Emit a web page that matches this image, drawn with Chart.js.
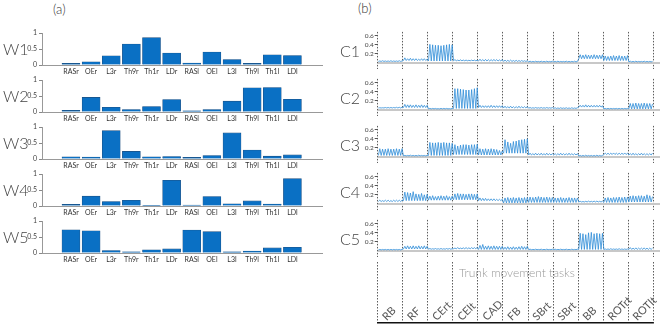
<!DOCTYPE html>
<html>
<head>
<meta charset="utf-8">
<script src="https://cdn.jsdelivr.net/npm/chart.js@4"></script>
<style>
  body { margin: 0; background: #fff; }
  #fig { position: relative; width: 669px; height: 325px; background: #fff; overflow: hidden; font-family: Lato, "Noto Sans", sans-serif; }
  #fig canvas { position: absolute; }
  .lbl { position: absolute; color: #444; font-weight: 300; line-height: 1; white-space: nowrap; }
  .big { font-size: 16px; }
</style>
</head>
<body>
<div id="fig">
  <div class="lbl" style="left:53px;top:3px;font-size:13px;color:#333">(a)</div>
  <div class="lbl" style="left:358px;top:2px;font-size:13px;color:#333">(b)</div>

  <canvas id="w1" width="330" height="52" style="left:0;top:27px"></canvas>
  <canvas id="w2" width="330" height="52" style="left:0;top:74px"></canvas>
  <canvas id="w3" width="330" height="52" style="left:0;top:121px"></canvas>
  <canvas id="w4" width="330" height="52" style="left:0;top:168px"></canvas>
  <canvas id="w5" width="330" height="52" style="left:0;top:215px"></canvas>

  <canvas id="c1" width="325" height="47" style="left:340px;top:27px"></canvas>
  <canvas id="c2" width="325" height="47" style="left:340px;top:74px"></canvas>
  <canvas id="c3" width="325" height="47" style="left:340px;top:121px"></canvas>
  <canvas id="c4" width="325" height="47" style="left:340px;top:168px"></canvas>
  <canvas id="c5" width="325" height="47" style="left:340px;top:215px"></canvas>
  <canvas id="tasksAxis" width="325" height="63" style="left:340px;top:262px"></canvas>

  <div class="lbl big" style="left:3px;top:41px">W1</div>
  <div class="lbl big" style="left:3px;top:88px">W2</div>
  <div class="lbl big" style="left:3px;top:135px">W3</div>
  <div class="lbl big" style="left:3px;top:182px">W4</div>
  <div class="lbl big" style="left:3px;top:229px">W5</div>

  <div class="lbl big" style="left:340px;top:43px">C1</div>
  <div class="lbl big" style="left:340px;top:90px">C2</div>
  <div class="lbl big" style="left:340px;top:137px">C3</div>
  <div class="lbl big" style="left:340px;top:184px">C4</div>
  <div class="lbl big" style="left:340px;top:231px">C5</div>

  <div class="lbl" style="left:459px;top:267px;font-size:12px;color:#999">Trunk movement tasks</div>
</div>

<script>
// muscle weights (a)
const muscles = ['RASr', 'OEr', 'L3r', 'Th9r', 'Th1r', 'LDr', 'RASl', 'OEl', 'L3l', 'Th9l', 'Th1l', 'LDl'];
const w1 = [0.05, 0.10, 0.29, 0.66, 0.86, 0.375, 0.06, 0.41, 0.17, 0.05, 0.32, 0.30];
const w2 = [0.05, 0.46, 0.15, 0.08, 0.17, 0.39, 0.04, 0.08, 0.34, 0.76, 0.77, 0.40];
const w3 = [0.07, 0.06, 0.89, 0.24, 0.07, 0.08, 0.05, 0.11, 0.82, 0.28, 0.09, 0.13];
const w4 = [0.05, 0.31, 0.14, 0.18, 0.02, 0.81, 0.03, 0.30, 0.07, 0.16, 0.06, 0.86];
const w5 = [0.73, 0.70, 0.08, 0.04, 0.10, 0.13, 0.72, 0.67, 0.04, 0.06, 0.16, 0.18];
const wTicks = [0, 0.5, 1];

// activation coefficients (b): per task a trough level and the peak heights
const tasks = ['RB', 'RF', 'CErt', 'CElt', 'CAD', 'FB', 'SBrt', 'SBrt', 'BB', 'ROTrt', 'ROTlt'];
const cTicks = [0, 0.2, 0.4, 0.6];

const c1Troughs = [0.03, 0.05, 0.04, 0.045, 0.04, 0.03, 0.02, 0.02, 0.09, 0.05, 0.02];
const c1Peaks = [
  [0.04, 0.045, 0.04, 0.04, 0.045, 0.04, 0.04, 0.045, 0.04],
  [0.11, 0.09, 0.10, 0.09, 0.09, 0.08, 0.09, 0.09, 0.08],
  [0.41, 0.40, 0.39, 0.39, 0.38, 0.39, 0.40, 0.41, 0.40],
  [0.07, 0.06, 0.065, 0.06, 0.06, 0.055, 0.06, 0.06, 0.055],
  [0.08, 0.07, 0.075, 0.07, 0.07, 0.075, 0.07, 0.065, 0.07],
  [0.06, 0.055, 0.06, 0.05, 0.055, 0.05, 0.05, 0.045, 0.045],
  [0.035, 0.03, 0.035, 0.03, 0.035, 0.03, 0.035, 0.03, 0.035],
  [0.03, 0.035, 0.03, 0.03, 0.035, 0.03, 0.03, 0.035, 0.03],
  [0.18, 0.17, 0.18, 0.17, 0.17, 0.18, 0.17, 0.17, 0.18],
  [0.15, 0.14, 0.15, 0.16, 0.15, 0.16, 0.15, 0.15, 0.16],
  [0.035, 0.03, 0.035, 0.03, 0.03, 0.035, 0.03, 0.03, 0.03]
];

const c2Troughs = [0.04, 0.05, 0.02, 0.03, 0.05, 0.04, 0.035, 0.03, 0.06, 0.02, 0.02];
const c2Peaks = [
  [0.045, 0.045, 0.05, 0.05, 0.05, 0.05, 0.055, 0.055, 0.055],
  [0.12, 0.11, 0.11, 0.10, 0.11, 0.10, 0.11, 0.10, 0.10],
  [0.03, 0.03, 0.03, 0.025, 0.03, 0.03, 0.03, 0.025, 0.03],
  [0.47, 0.47, 0.46, 0.45, 0.44, 0.44, 0.45, 0.47, 0.49],
  [0.10, 0.09, 0.09, 0.09, 0.10, 0.09, 0.09, 0.09, 0.09],
  [0.08, 0.07, 0.08, 0.07, 0.07, 0.08, 0.07, 0.07, 0.07],
  [0.05, 0.045, 0.05, 0.045, 0.05, 0.045, 0.05, 0.045, 0.05],
  [0.045, 0.04, 0.045, 0.04, 0.045, 0.04, 0.045, 0.04, 0.045],
  [0.10, 0.10, 0.11, 0.10, 0.10, 0.10, 0.10, 0.10, 0.09],
  [0.03, 0.03, 0.03, 0.03, 0.03, 0.03, 0.03, 0.03, 0.03],
  [0.14, 0.14, 0.15, 0.14, 0.14, 0.15, 0.14, 0.14, 0.13]
];

const c3Troughs = [0.03, 0.02, 0.03, 0.05, 0.04, 0.08, 0.04, 0.04, 0.015, 0.05, 0.04];
const c3Peaks = [
  [0.18, 0.17, 0.17, 0.18, 0.17, 0.17, 0.18, 0.17, 0.18],
  [0.03, 0.03, 0.035, 0.03, 0.03, 0.035, 0.03, 0.03, 0.03],
  [0.32, 0.31, 0.31, 0.32, 0.31, 0.32, 0.31, 0.31, 0.30],
  [0.27, 0.24, 0.26, 0.27, 0.27, 0.26, 0.27, 0.27, 0.28],
  [0.18, 0.17, 0.18, 0.17, 0.18, 0.17, 0.16, 0.14, 0.13],
  [0.38, 0.33, 0.30, 0.34, 0.35, 0.37, 0.38, 0.39, 0.40],
  [0.08, 0.07, 0.08, 0.07, 0.08, 0.07, 0.08, 0.07, 0.07],
  [0.07, 0.07, 0.08, 0.07, 0.07, 0.08, 0.07, 0.07, 0.07],
  [0.03, 0.03, 0.035, 0.03, 0.03, 0.03, 0.035, 0.03, 0.03],
  [0.08, 0.08, 0.08, 0.085, 0.08, 0.08, 0.08, 0.085, 0.08],
  [0.07, 0.08, 0.07, 0.07, 0.08, 0.07, 0.07, 0.07, 0.08]
];

const c4Troughs = [0.05, 0.07, 0.08, 0.09, 0.07, 0.02, 0.03, 0.03, 0.04, 0.03, 0.04];
const c4Peaks = [
  [0.08, 0.07, 0.08, 0.08, 0.07, 0.08, 0.08, 0.08, 0.08],
  [0.26, 0.25, 0.24, 0.27, 0.22, 0.21, 0.23, 0.20, 0.21],
  [0.17, 0.18, 0.16, 0.17, 0.18, 0.17, 0.18, 0.16, 0.17],
  [0.22, 0.23, 0.22, 0.22, 0.21, 0.22, 0.22, 0.21, 0.22],
  [0.13, 0.12, 0.12, 0.11, 0.11, 0.11, 0.10, 0.10, 0.10],
  [0.13, 0.14, 0.13, 0.14, 0.13, 0.14, 0.13, 0.14, 0.14],
  [0.15, 0.14, 0.15, 0.16, 0.15, 0.14, 0.15, 0.14, 0.14],
  [0.13, 0.13, 0.14, 0.13, 0.13, 0.14, 0.13, 0.13, 0.13],
  [0.055, 0.05, 0.055, 0.06, 0.055, 0.06, 0.06, 0.055, 0.06],
  [0.13, 0.14, 0.13, 0.14, 0.14, 0.15, 0.14, 0.15, 0.15],
  [0.17, 0.18, 0.17, 0.18, 0.18, 0.17, 0.20, 0.18, 0.16]
];

const c5Troughs = [0.02, 0.04, 0.035, 0.045, 0.03, 0.03, 0.025, 0.025, 0.03, 0.03, 0.03];
const c5Peaks = [
  [0.03, 0.03, 0.03, 0.03, 0.03, 0.03, 0.03, 0.03, 0.03],
  [0.10, 0.11, 0.10, 0.11, 0.10, 0.11, 0.10, 0.11, 0.10],
  [0.05, 0.045, 0.05, 0.045, 0.05, 0.045, 0.05, 0.05, 0.045],
  [0.06, 0.07, 0.06, 0.065, 0.07, 0.065, 0.07, 0.07, 0.075],
  [0.12, 0.14, 0.10, 0.11, 0.10, 0.11, 0.10, 0.10, 0.10],
  [0.08, 0.09, 0.08, 0.09, 0.08, 0.09, 0.10, 0.09, 0.10],
  [0.035, 0.03, 0.035, 0.03, 0.035, 0.03, 0.035, 0.03, 0.035],
  [0.035, 0.03, 0.035, 0.03, 0.035, 0.03, 0.035, 0.03, 0.035],
  [0.39, 0.38, 0.36, 0.40, 0.41, 0.38, 0.39, 0.38, 0.39],
  [0.04, 0.04, 0.045, 0.04, 0.04, 0.045, 0.04, 0.04, 0.04],
  [0.07, 0.06, 0.065, 0.06, 0.06, 0.065, 0.06, 0.06, 0.06]
];

const fontFam = 'Lato, "Noto Sans", sans-serif';
Chart.defaults.font.family = fontFam;
Chart.defaults.animation = false;
Chart.defaults.responsive = false;
Chart.defaults.plugins.legend.display = false;
Chart.defaults.plugins.tooltip.enabled = false;

function barPanel(id, values) {
  new Chart(document.getElementById(id), {
    type: 'bar',
    data: {
      datasets: [{
        data: values.map((v, i) => ({ x: i, y: v })),
        backgroundColor: '#0a70c4',
        borderColor: '#1d4f80',
        borderWidth: 0.6,
        barThickness: 18
      }]
    },
    options: {
      layout: { padding: { top: 5, right: 8, bottom: 0, left: 0 } },
      scales: {
        x: {
          type: 'linear', min: -0.86, max: 11.89,
          afterBuildTicks: s => { s.ticks = muscles.map((m, i) => ({ value: i })); },
          afterFit: s => { s.height = 14; },
          grid: { display: false, drawTicks: false },
          border: { color: '#999', width: 1 },
          ticks: { callback: v => muscles[v], autoSkip: false, maxRotation: 0, padding: 3, font: { size: 7 }, color: '#333' }
        },
        y: {
          min: 0, max: 1,
          afterBuildTicks: s => { s.ticks = wTicks.map(v => ({ value: v })); },
          afterFit: s => { s.width = 42; },
          grid: { drawOnChartArea: false, tickLength: 3, color: '#888' },
          border: { color: '#999', width: 1 },
          ticks: { padding: 2, font: { size: 7 }, color: '#444', callback: v => String(v) }
        }
      }
    }
  });
}

function linePanel(id, troughs, peaks) {
  const pts = [];
  tasks.forEach((t, i) => {
    peaks[i].forEach((p, j) => {
      pts.push({ x: i + (2 * j + 0.5) / 18, y: troughs[i] });
      pts.push({ x: i + (2 * j + 1.5) / 18, y: p });
    });
  });
  new Chart(document.getElementById(id), {
    type: 'line',
    data: {
      datasets: [{ data: pts, borderColor: '#2f8dd8', borderWidth: 0.8, pointRadius: 0, tension: 0 }]
    },
    options: {
      layout: { padding: { top: 0, right: 5, bottom: 0, left: 0 } },
      scales: {
        x: {
          type: 'linear', min: 0, max: 11.27,
          afterBuildTicks: s => { s.ticks = tasks.map((t, i) => ({ value: i })).concat([{ value: 11 }]); },
          afterFit: s => { s.height = 0; },
          ticks: { display: false },
          grid: { color: '#333', lineWidth: 0.8, drawTicks: false },
          border: { display: false, dash: [1.5, 1.5] }
        },
        y: {
          min: -0.141, max: 0.688,
          afterBuildTicks: s => { s.ticks = cTicks.map(v => ({ value: v })); },
          afterFit: s => { s.width = 37.7; },
          grid: {
            color: c => (c.tick && c.tick.value === 0 ? '#c8c8c8' : 'rgba(0,0,0,0)'),
            lineWidth: c => (c.tick && c.tick.value === 0 ? 2 : 1),
            tickColor: c => (c.tick && c.tick.value === 0 ? 'rgba(0,0,0,0)' : '#555'),
            tickLength: 3
          },
          border: { display: false },
          ticks: { padding: 1, font: { size: 6.5 }, color: '#444', callback: v => (v === 0 ? '' : v.toFixed(1)) }
        }
      }
    }
  });
}

barPanel('w1', w1);
barPanel('w2', w2);
barPanel('w3', w3);
barPanel('w4', w4);
barPanel('w5', w5);

linePanel('c1', c1Troughs, c1Peaks);
linePanel('c2', c2Troughs, c2Peaks);
linePanel('c3', c3Troughs, c3Peaks);
linePanel('c4', c4Troughs, c4Peaks);
linePanel('c5', c5Troughs, c5Peaks);

// no extra side padding from the slanted names
function flatAxis(h) {
  return s => {
    s.height = h;
    s.paddingLeft = 0; s.paddingRight = 0; s.paddingTop = 0; s.paddingBottom = 0;
  };
}

// task names below the stacked panels: a top axis mirrored down into the plot
// area carries the slanted names, the bottom axis carries the dividers and the black line
new Chart(document.getElementById('tasksAxis'), {
  type: 'line',
  data: { labels: tasks, datasets: [] },
  options: {
    layout: { padding: { top: 0, right: 11.7, bottom: 0, left: 37.7 } },
    scales: {
      names: {
        type: 'category', position: 'top', offset: true,
        afterFit: flatAxis(0),
        grid: { display: false, drawTicks: false },
        border: { display: false },
        ticks: { autoSkip: false, minRotation: 45, maxRotation: 45, mirror: true, padding: 52, labelOffset: -6, font: { size: 11 }, color: '#555' }
      },
      x: {
        type: 'category', position: 'bottom', offset: true,
        afterFit: flatAxis(2),
        grid: { offset: true, color: '#333', lineWidth: 0.8, drawTicks: false },
        border: { color: '#111', width: 1.5, dash: [1.5, 1.5] },
        ticks: { display: false }
      },
      y: { display: false, min: 0, max: 1 }
    }
  }
});
</script>
</body>
</html>
